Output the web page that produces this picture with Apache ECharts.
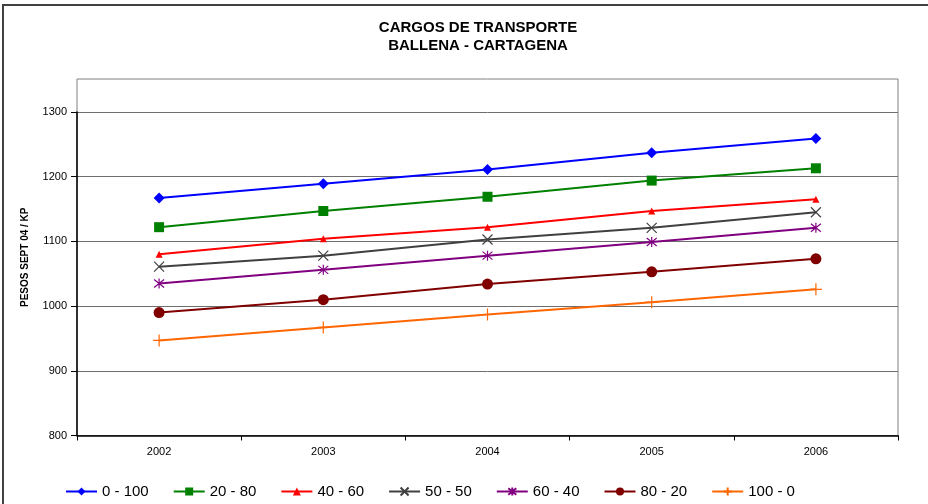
<!DOCTYPE html>
<html>
<head>
<meta charset="utf-8">
<script src="https://cdn.jsdelivr.net/npm/echarts@6/dist/echarts.min.js"></script>
<style>
  html, body { margin: 0; padding: 0; background: #fff; }
  #chart { width: 928px; height: 504px; }
</style>
</head>
<body>
<div id="chart"></div>
<script>
// años
const years = ['2002', '2003', '2004', '2005', '2006']
const yTicks = [800, 900, 1000, 1100, 1200, 1300]

// cargos por mezcla (pesos sept 04 / KP)
const s0_100 = [1167, 1189, 1211, 1237, 1259]
const s20_80 = [1122, 1147, 1169, 1194, 1213]
const s40_60 = [1080, 1104, 1122, 1147, 1165]
const s50_50 = [1061, 1078, 1103, 1121, 1145]
const s60_40 = [1035, 1056, 1078, 1099, 1121]
const s80_20 = [990, 1010, 1034, 1053, 1073]
const s100_0 = [947, 967, 987, 1006, 1026]

const names = ['0 - 100', '20 - 80', '40 - 60', '50 - 50', '60 - 40', '80 - 20', '100 - 0']
const values = [s0_100, s20_80, s40_60, s50_50, s60_40, s80_20, s100_0]
const colors = ['#0000FF', '#008000', '#FF0000', '#404040', '#800080', '#800000', '#FF6600']

// marcadores tipo Excel
const symX = 'path://M0,0L10,10M10,0L0,10'
const symStar = 'path://M0,1L10,9M10,1L0,9M5,0L5,10'
const symPlus = 'path://M5,0L5,10M0,5L10,5'
const symbols = ['diamond', 'rect', 'triangle', symX, symStar, 'circle', symPlus]
const sizes = [11, 10, 7, 10, 10, 11, 12]
const stroked = [false, false, false, true, true, false, true]

const chart = echarts.init(document.getElementById('chart'))

const series = names.map((n, i) => ({
  name: n,
  type: 'line',
  xAxisIndex: 0,
  yAxisIndex: 0,
  data: values[i],
  symbol: symbols[i],
  symbolSize: sizes[i],
  showAllSymbol: true,
  lineStyle: { color: colors[i], width: 2 },
  itemStyle: stroked[i]
    ? { color: colors[i], borderColor: colors[i], borderWidth: 1.2 }
    : { color: colors[i], borderWidth: 0 },
  emphasis: { disabled: true },
  animation: false
}))

const option = {
  backgroundColor: '#fff',
  animation: false,
  textStyle: { fontFamily: 'Liberation Sans, Arial, sans-serif' },
  title: {
    text: 'CARGOS DE TRANSPORTE\nBALLENA - CARTAGENA',
    left: 473,
    textAlign: 'center',
    top: 14,
    textStyle: {
      fontSize: 15,
      fontWeight: 'bold',
      color: '#000',
      lineHeight: 18,
      fontFamily: 'Liberation Sans, Arial, sans-serif'
    }
  },
  legend: {
    data: names,
    left: 60,
    top: 479,
    itemWidth: 31,
    itemHeight: 10,
    itemGap: 24,
    textStyle: { fontSize: 15, color: '#000' }
  },
  graphic: [
    {
      type: 'rect',
      shape: { x: 3, y: 5, width: 960, height: 540 },
      style: { fill: 'none', stroke: '#404040', lineWidth: 2 },
      silent: true
    }
  ],
  grid: [
    { left: 77, right: 30, top: 112, bottom: 68.5 },
    { left: 77, right: 30, top: 79, bottom: 68.5, show: true, borderColor: '#808080', borderWidth: 1, backgroundColor: 'transparent' }
  ],
  xAxis: [
    {
      type: 'category',
      gridIndex: 0,
      data: years,
      boundaryGap: true,
      axisLine: { lineStyle: { color: '#000', width: 1.5 } },
      axisTick: { show: true, length: 5, lineStyle: { color: '#000' } },
      axisLabel: { fontSize: 11, color: '#000', margin: 11 }
    },
    { type: 'category', gridIndex: 1, show: false, data: years }
  ],
  yAxis: [
    {
      type: 'value',
      gridIndex: 0,
      min: yTicks[0],
      max: yTicks[yTicks.length - 1],
      interval: 100,
      axisLine: { show: true, lineStyle: { color: '#000', width: 1.5 } },
      axisTick: { show: true, length: 6, lineStyle: { color: '#000' } },
      axisLabel: { fontSize: 11, color: '#000', margin: 10, formatter: v => String(v) },
      splitLine: { show: true, lineStyle: { color: '#6e6e6e', width: 1 } }
    },
    {
      type: 'value',
      gridIndex: 1,
      min: 0,
      max: 1,
      name: 'PESOS SEPT 04 / KP',
      nameLocation: 'middle',
      nameRotate: 90,
      nameGap: 47,
      nameTextStyle: { fontSize: 10, fontWeight: 'bold', color: '#000' },
      axisLine: { show: false },
      axisTick: { show: false },
      axisLabel: { show: false },
      splitLine: { show: false }
    }
  ],
  series: series
}

chart.setOption(option)
</script>
</body>
</html>
